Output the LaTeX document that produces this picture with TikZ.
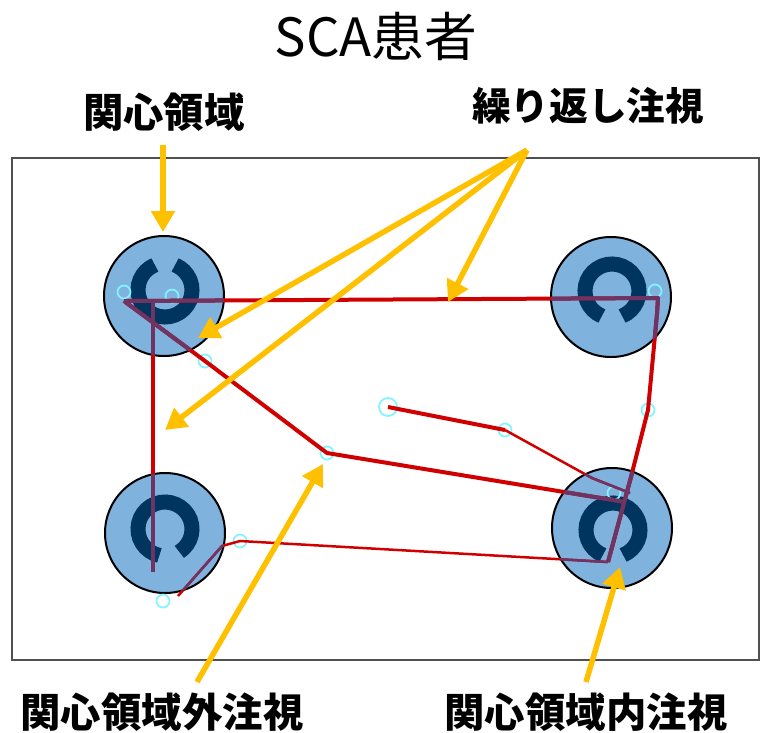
\documentclass[tikz,border=0pt]{standalone}
\usepackage{fontspec}
\setmainfont{Noto Sans CJK JP}
\usetikzlibrary{arrows.meta,positioning}

\definecolor{roiblue}{HTML}{7FB2DD}
\definecolor{ringnavy}{HTML}{00355F}
\definecolor{sacred}{HTML}{D00000}
\definecolor{sacpurple}{HTML}{6E3464}
\definecolor{fixcyan}{HTML}{80F4FF}
\definecolor{callorange}{HTML}{FFC000}
\definecolor{framegray}{HTML}{505050}

\begin{document}
\begin{tikzpicture}[x=0.2mm, y=-0.2mm, thick]
    % Styles
    \tikzstyle{roi} = [circle, draw=black, line width=0.4mm, fill=roiblue, minimum size=24mm, inner sep=0pt]
    \tikzstyle{ring} = [draw=ringnavy, line width=3mm]
    \tikzstyle{fix} = [circle, draw=fixcyan, line width=0.35mm, minimum size=2.6mm, inner sep=0pt]
    \tikzstyle{saccade} = [line width=0.8mm, line join=round]
    \tikzstyle{saccade_thin} = [line width=0.5mm, line join=round]
    \tikzstyle{callout} = [draw=callorange, line width=1.1mm, -{Triangle[length=4.2mm, width=4.6mm]}]
    \tikzstyle{label_text} = [font=\fontsize{23pt}{27pt}\selectfont\bfseries, inner sep=0pt]
    \tikzstyle{title_text} = [font=\fontsize{30pt}{34pt}\selectfont, inner sep=0pt]

    \useasboundingbox (0,0) rectangle (761,732);

    % Stimulus frame
    \draw [draw=framegray, line width=0.55mm] (12,158) rectangle (759,660);

    % Regions of interest (Landolt rings)
    \node [roi] (tl) at (164,296) {};
    \node [roi] (tr) at (611,297) {};
    \node [roi] (bl) at (165,533) {};
    \node [roi] (br) at (612,528) {};
    \draw [ring] (165,290) ++(112:5.4mm) arc [start angle=112, end angle=428, radius=5.4mm];
    \draw [ring] (612,291) ++(-68:5.4mm) arc [start angle=-68, end angle=248, radius=5.4mm];
    \draw [ring] (165,529) ++(-58:5.4mm) arc [start angle=-58, end angle=258, radius=5.4mm];
    \draw [ring] (613,530) ++(-68:5.4mm) arc [start angle=-68, end angle=248, radius=5.4mm];

    % Fixation points
    \coordinate (a) at (124,301);
    \coordinate (b) at (153,300);
    \coordinate (t1) at (658,298);
    \coordinate (t2) at (657,314);
    \coordinate (l) at (631,477);
    \coordinate (k) at (608,562);
    \coordinate (i) at (222,546);
    \coordinate (h) at (178,596);
    \coordinate (g) at (153,572);
    \coordinate (e) at (625,502);
    \coordinate (s) at (592,478);
    \coordinate (t) at (630,493);
    \node [fix] (fa) at (124,292) {};
    \node [fix] (fb) at (172,296) {};
    \node [fix] (ft) at (655,291) {};
    \node [fix] (fm) at (648,410) {};
    \node [fix] (fc) at (205,361) {};
    \node [fix] (fd) at (327,453) {};
    \node [fix, minimum size=3.6mm] (fq) at (388,407) {};
    \node [fix] (fr) at (505,430) {};
    \node [fix] (fj) at (240,541) {};
    \node [fix] (fh) at (163,601) {};
    \node [fix] (fe) at (614,493) {};

    % Scan path (red, purple over the regions)
    \foreach \pass in {1,2} {
      \begin{scope}
        \ifnum\pass=2
          \clip (tl.center) circle (12mm) (tr.center) circle (12mm)
                (bl.center) circle (12mm) (br.center) circle (12mm);
          \def\sc{sacpurple}
        \else
          \def\sc{sacred}
        \fi
        \draw [saccade, draw=\sc] (a) -- (t1) -- (t2) -- (fm.center) -- (l) -- (k);
        \draw [saccade_thin, draw=\sc] (k) -- (fj.center) -- (i) -- (h);
        \draw [saccade, draw=\sc] (g) -- (b);
        \draw [saccade, draw=\sc] (a) -- (fc.center) -- (fd.center) -- (e);
        \draw [saccade, draw=\sc] (fq.center) -- (fr.center);
        \draw [saccade_thin, draw=\sc] (fr.center) -- (s) -- (t);
      \end{scope}
    }

    % Labels
    \node [title_text] (title) at (376,36) {SCA患者};
    \node [label_text] (roi_lbl) at (164,112) {関心領域};
    \node [label_text, font=\fontsize{22pt}{26pt}\selectfont\bfseries] (rep_lbl) at (588,106) {繰り返し注視};
    \node [label_text] (out_lbl) at (162,712) {関心領域外注視};
    \node [label_text] (in_lbl) at (586,712) {関心領域内注視};

    % Callout arrows
    \coordinate (roi_src) at (163,145);
    \coordinate (roi_tip) at (163,232);
    \coordinate (rep_src) at (527,150);
    \coordinate (rep_t1) at (448,302);
    \coordinate (rep_t2) at (198,338);
    \coordinate (rep_t3) at (165,430);
    \coordinate (out_src) at (197,682);
    \coordinate (out_tip) at (323,464);
    \coordinate (in_src) at (586,682);
    \coordinate (in_tip) at (620,567);
    \draw [callout] (roi_src) -- (roi_tip);
    \draw [callout] (rep_src) -- (rep_t1);
    \draw [callout] (rep_src) -- (rep_t2);
    \draw [callout] (rep_src) -- (rep_t3);
    \draw [callout] (out_src) -- (out_tip);
    \draw [callout] (in_src) -- (in_tip);

\end{tikzpicture}
\end{document}
